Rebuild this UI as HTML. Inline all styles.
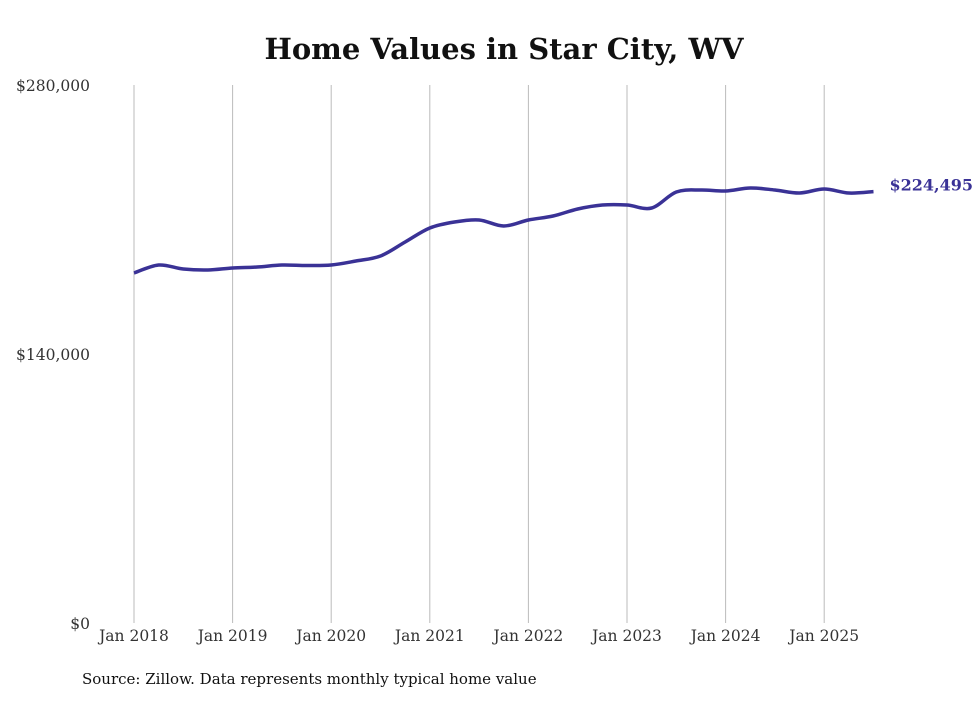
<!DOCTYPE html>
<html><head><meta charset="utf-8"><style>
body{margin:0;background:#fff;}
svg text{font-family:"DejaVu Serif","Liberation Serif",serif;}
</style></head><body>
<svg width="980" height="699" xmlns="http://www.w3.org/2000/svg">
<text x="504" y="59" text-anchor="middle" font-size="29" font-weight="bold" fill="#111">Home Values in Star City, WV</text>
<g id="grid"></g><g id="yaxis"></g><g id="xaxis"></g>
<path id="line" fill="none" stroke="#3a3296" stroke-width="3.5"/>
<text id="endlabel" font-size="16" font-weight="bold" fill="#3a3296"></text>
<text x="82" y="684" font-size="15" fill="#111">Source: Zillow. Data represents monthly typical home value</text>
</svg>
<script>
const months=[0,3,6,9,12,15,18,21,24,27,30,33,36,39,42,45,48,51,54,57,60,63,66,69,72,75,78,81,84,87,90];
const values=[182157,186320,184238,183718,184758,185279,186320,186060,186320,188402,191004,198290,205576,208699,209740,206617,209740,211822,215465,217547,217547,215986,224313,225354,224834,226395,225354,223793,225875,223793,224495];
const xTickLabels=["Jan 2018","Jan 2019","Jan 2020","Jan 2021","Jan 2022","Jan 2023","Jan 2024","Jan 2025"];
const yTicks=[0,140000,280000];
const yTickLabels=["$0","$140,000","$280,000"];
const X=m=>134+m*(98.6/12);
const Y=v=>623-v*538/280000;
const NS="http://www.w3.org/2000/svg";
function mk(t,a,p){const e=document.createElementNS(NS,t);for(const k in a)e.setAttribute(k,a[k]);p.appendChild(e);return e;}
const grid=document.getElementById('grid'),xa=document.getElementById('xaxis'),ya=document.getElementById('yaxis');
xTickLabels.forEach((l,i)=>{const x=X(i*12);
const g=mk('line',{x1:x,x2:x,y1:85,y2:623,stroke:'#bbb','stroke-width':1},grid);


const t=mk('text',{x:x,y:641,'text-anchor':'middle','font-size':15.5,fill:'#333'},xa);t.textContent=l;

});
yTicks.forEach((v,i)=>{const t=mk('text',{x:90,y:Y(v)+6,'text-anchor':'end','font-size':15.5,fill:'#333'},ya);t.textContent=yTickLabels[i];

});
const pts=months.map((m,i)=>[X(m),Y(values[i])]);
let d='M'+pts[0][0]+','+pts[0][1];
for(let i=0;i<pts.length-1;i++){const p0=pts[i-1]||pts[i],p1=pts[i],p2=pts[i+1],p3=pts[i+2]||p2;
d+=` C${p1[0]+(p2[0]-p0[0])/6},${p1[1]+(p2[1]-p0[1])/6} ${p2[0]-(p3[0]-p1[0])/6},${p2[1]-(p3[1]-p1[1])/6} ${p2[0]},${p2[1]}`;}
document.getElementById('line').setAttribute('d',d);
const last=pts[pts.length-1];const el=document.getElementById('endlabel');
el.setAttribute('x',last[0]+16);el.setAttribute('y',last[1]-1);
el.textContent='$'+values[values.length-1].toLocaleString('en-US');
</script>
</body></html>
